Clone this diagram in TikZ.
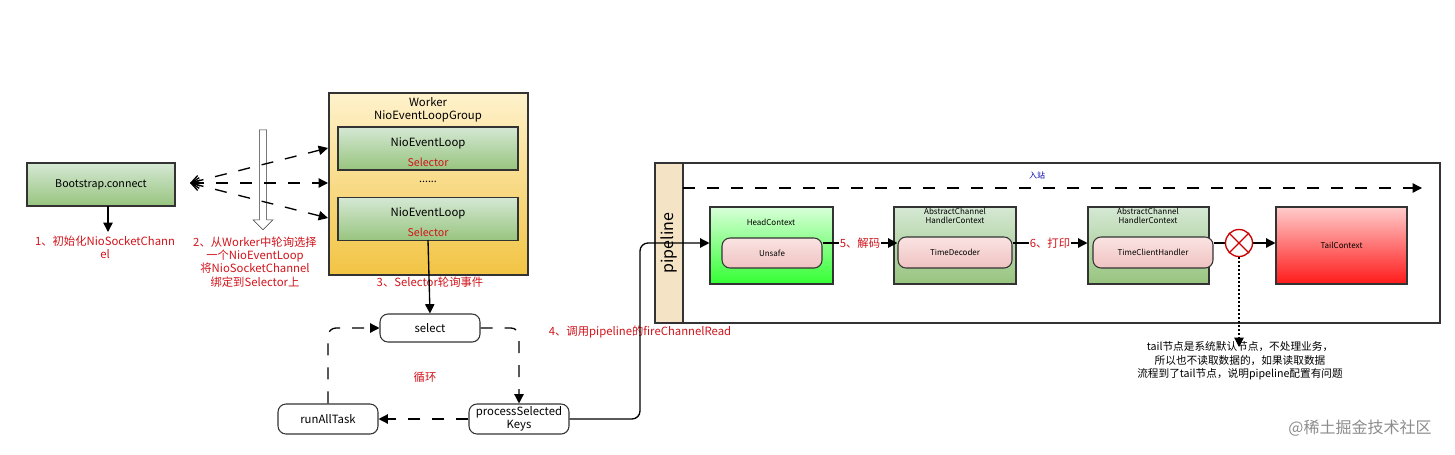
\documentclass[tikz,border=0pt]{standalone}
\usepackage{fontspec}
\setmainfont{Noto Sans CJK SC}
\usetikzlibrary{arrows.meta,shapes.arrows}
\definecolor{gtop}{HTML}{D5E8D4}\definecolor{gbot}{HTML}{97C47E}
\definecolor{ytop}{HTML}{FFF2CC}\definecolor{ybot}{HTML}{F2C443}
\definecolor{ptop}{HTML}{FAE3E2}\definecolor{pbot}{HTML}{EFC3C2}
\definecolor{red1}{HTML}{D0141B}
\definecolor{beige}{HTML}{F5E3C6}
\begin{document}
\begin{tikzpicture}[x=0.75pt,y=-0.75pt,font=\fontsize{8}{9.5}\selectfont,
 box/.style={draw=black!80,line width=0.8pt},
 gbox/.style={box,top color=gtop,bottom color=gbot},
 pill/.style={box,rounded corners=6pt,top color=ptop,bottom color=pbot},
 wpill/.style={box,rounded corners=6pt,fill=white,font=\fontsize{8.5}{10}\selectfont},
 lab/.style={text=red1,align=center,font=\fontsize{8.5}{10}\selectfont},
 arr/.style={line width=1pt,-{Triangle[length=7pt,width=7pt]}},
 darr/.style={arr,dash pattern=on 9pt off 9pt},
 tlab/.style={align=center,font=\fontsize{6}{7}\selectfont}]
\useasboundingbox (0,0) rectangle (1455,454);
% left part
\node[gbox,minimum width=148*0.75pt,minimum height=43*0.75pt] (boot) at (101,184.5) {Bootstrap.connect};
\coordinate (bootd) at (108,232);
\draw[arr] (108,206) -- (bootd);
\node[lab] (l1) at (105,247) {1、初始化NioSocketChann\\el};
\node[single arrow,draw=black!80,fill=white,shape border rotate=270,minimum height=100*0.75pt,minimum width=20*0.75pt,single arrow head extend=3pt,inner sep=1.5pt] (ha) at (263,178) {};
\node[lab] (l2) at (255,262) {2、从Worker中轮询选择\\一个NioEventLoop\\将NioSocketChannel\\绑定到Selector上};
\node[box,top color=ytop,bottom color=ybot,minimum width=199*0.75pt,minimum height=182*0.75pt] (worker) at (428.5,184) {};
\node[align=center,font=\fontsize{8.5}{10}\selectfont] (wt) at (428,110) {Worker\\NioEventLoopGroup};
\node[gbox,minimum width=180*0.75pt,minimum height=43*0.75pt] (nel1) at (428,148.5) {};
\node[font=\fontsize{8.5}{10}\selectfont] (n1t) at (428,143) {NioEventLoop};
\node[text=red1,font=\fontsize{8}{9}\selectfont] (n1s) at (428,162) {Selector};
\node (dots) at (428,182) {......};
\node[gbox,minimum width=180*0.75pt,minimum height=43*0.75pt] (nel2) at (428,219) {};
\node[font=\fontsize{8.5}{10}\selectfont] (n2t) at (428,213) {NioEventLoop};
\node[text=red1,font=\fontsize{8}{9}\selectfont] (n2s) at (428,232) {Selector};
\coordinate (fan) at (190,183);
\foreach \y/\n in {148/a,183/b,218/c}{
  \coordinate (t\n) at (328,\y);
  \draw[darr,{Straight Barb[length=6pt,width=8pt]}-{Triangle[length=7pt,width=7pt]}] (fan) -- (t\n);}
\node[lab] (l3) at (430,282) {3、Selector轮询事件};
\node[wpill,minimum width=100*0.75pt,minimum height=28*0.75pt] (sel) at (430,328) {select};
\node[wpill,minimum width=100*0.75pt,minimum height=30*0.75pt,align=center,inner sep=1pt] (psk) at (519,419) {processSelected\\Keys};
\node[wpill,minimum width=100*0.75pt,minimum height=30*0.75pt] (rat) at (328,419) {runAllTask};
\draw[arr] (428,240) -- (sel.north);
\draw[darr,rounded corners=6pt] (sel.east) -| (psk.north);
\draw[darr] (psk.west) -- (rat.east);
\draw[darr,rounded corners=6pt] (rat.north) |- (sel.west);
\node[lab] (loop) at (425,377) {循环};
\node[lab] (l4) at (640,332) {4、调用pipeline的fireChannelRead};
% pipeline
\node[box,minimum width=785*0.75pt,minimum height=160*0.75pt] (pipe) at (1047.5,243) {};
\node[box,fill=beige,minimum width=28*0.75pt,minimum height=160*0.75pt] (strip) at (669,243) {};
\node[rotate=90,font=\fontsize{12}{14}\selectfont] (pt) at (669,243) {pipeline};
\coordinate (ds) at (683,188); \coordinate (de) at (1422,188);
\draw[darr] (ds) -- (de);
\node[text=blue!70!black,font=\fontsize{6}{7}\selectfont] (in) at (1037,175) {入站};
\node[box,top color=green!15,bottom color=green!80,minimum width=123*0.75pt,minimum height=77*0.75pt] (head) at (771.5,245.5) {};
\node[tlab] (ht) at (771,222) {HeadContext};
\node[pill,minimum width=100*0.75pt,minimum height=30*0.75pt,font=\fontsize{6}{7}\selectfont] (uns) at (772,253) {Unsafe};
\node[gbox,minimum width=122*0.75pt,minimum height=77*0.75pt] (c2) at (955,245.5) {};
\node[tlab] (c2t) at (955,216) {AbstractChannel\\HandlerContext};
\node[pill,minimum width=114*0.75pt,minimum height=31*0.75pt,font=\fontsize{6}{7}\selectfont] (dec) at (955,252.5) {TimeDecoder};
\node[gbox,minimum width=121*0.75pt,minimum height=77*0.75pt] (c3) at (1148.5,245.5) {};
\node[tlab] (c3t) at (1148,216) {AbstractChannel\\HandlerContext};
\node[pill,minimum width=120*0.75pt,minimum height=31*0.75pt,font=\fontsize{6}{7}\selectfont] (tch) at (1153,252.5) {TimeClientHandler};
\node[box,top color=red!20,bottom color=red!90,minimum width=131*0.75pt,minimum height=77*0.75pt,font=\fontsize{6}{7}\selectfont] (tail) at (1341.5,245.5) {TailContext};
\node[circle,draw=red!80!black,line width=1pt,fill=white,minimum size=27*0.75pt,inner sep=0pt] (x) at (1239,243) {};
\draw[red!80!black,line width=1pt] (x.north west) -- (x.south east) (x.north east) -- (x.south west);
\coordinate (p4) at (640,243);
\draw[arr,rounded corners=6pt] (psk.east) -- (640,419) -- (p4) -- (head.west |- p4);
\draw[arr] (uns.east |- p4) -- node[lab,fill=white,inner sep=1pt]{5、解码} (dec.west |- p4);
\draw[arr] (dec.east |- p4) -- node[lab,fill=white,inner sep=1pt]{6、打印} (c3.west |- p4);
\draw[line width=1pt] (tch.east |- p4) -- (x.west);
\draw[arr] (x.east) -- (tail.west |- p4);
\coordinate (xd) at (1239,347);
\draw[line width=1pt,dotted,-{Triangle[length=7pt,width=7pt]}] (x.south) -- (xd);
\node[align=center,font=\fontsize{8}{10}\selectfont] (note) at (1240,361) {tail节点是系统默认节点，不处理业务，\\所以也不读取数据的，如果读取数据\\流程到了tail节点，说明pipeline配置有问题};
\node[text=black!45,font=\fontsize{12}{14}\selectfont] (wm) at (1360,428) {@稀土掘金技术社区};
\end{tikzpicture}
\end{document}
